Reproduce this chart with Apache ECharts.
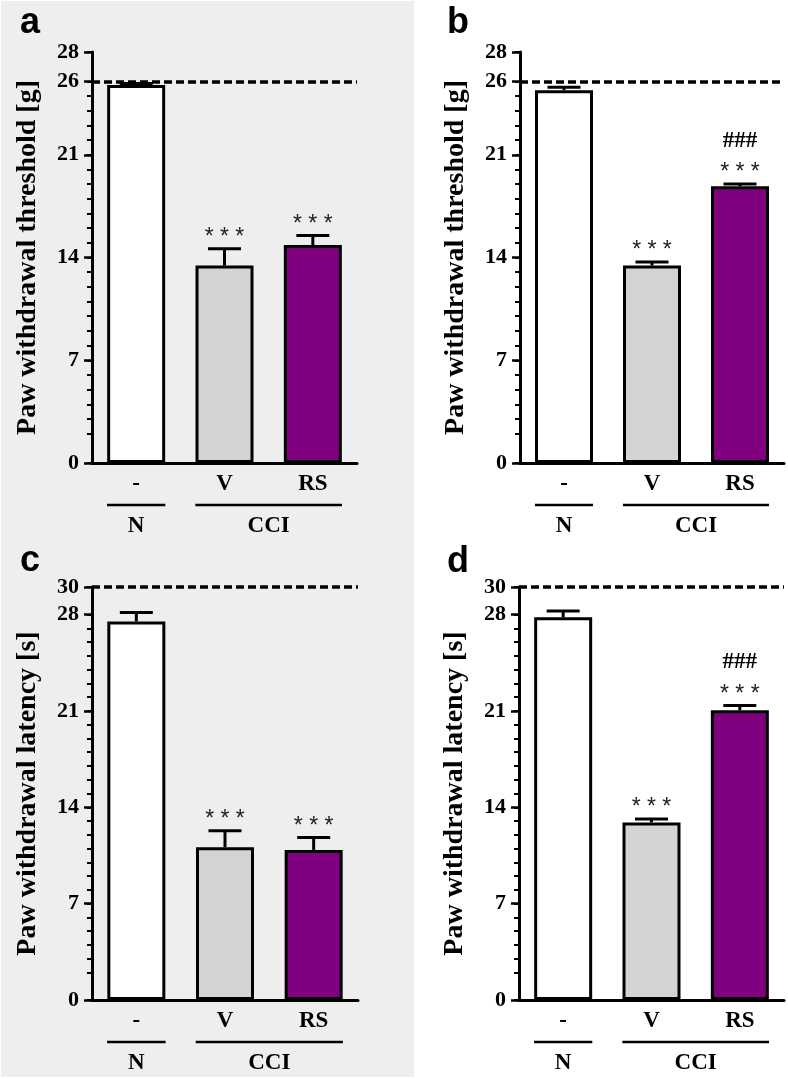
<!DOCTYPE html>
<html>
<head>
<meta charset="utf-8">
<script src="https://cdn.jsdelivr.net/npm/echarts@6/dist/echarts.min.js"></script>
<style>
html,body{margin:0;padding:0;background:#fff;}
#chart{width:788px;height:1079px;}
</style>
</head>
<body>
<div id="chart"></div>
<script>
// ---------- data ----------
const categories = ['-', 'V', 'RS'];
const groupNames = ['N', 'CCI'];
const groupSpans = [[0, 0], [1, 2]];

const panelLabels = ['a', 'b', 'c', 'd'];
const yTitles = ['Paw withdrawal threshold [g]', 'Paw withdrawal threshold [g]',
                 'Paw withdrawal latency [s]', 'Paw withdrawal latency [s]'];

const meansA = [25.75, 13.45, 14.85];
const semA   = [0.1, 1.15, 0.65];
const meansB = [25.4, 13.45, 18.85];
const semB   = [0.2, 0.25, 0.15];
const meansC = [27.5, 11.1, 10.9];
const semC   = [0.65, 1.2, 0.9];
const meansD = [27.8, 12.9, 21.05];
const semD   = [0.45, 0.25, 0.35];

const starsA = ['', '***', '***'];
const starsB = ['', '***', '***'];
const starsC = ['', '***', '***'];
const starsD = ['', '***', '***'];
const hashA = ['', '', ''];
const hashB = ['', '', '###'];
const hashC = ['', '', ''];
const hashD = ['', '', '###'];

const cutoffs = [26, 26, 30, 30];
const yMax = [28, 28, 30, 30];
const ticksThreshold = [0, 7, 14, 21, 26, 28];
const ticksLatency = [0, 7, 14, 21, 28, 30];

// ---------- styles ----------
const barColors = ['#ffffff', '#d3d3d3', '#800080'];
const SERIF = '"Liberation Serif", "Times New Roman", serif';
const SANS = '"Liberation Sans", Arial, sans-serif';

const panels = [
  {means: meansA, sem: semA, stars: starsA, hash: hashA, ticks: ticksThreshold},
  {means: meansB, sem: semB, stars: starsB, hash: hashB, ticks: ticksThreshold},
  {means: meansC, sem: semC, stars: starsC, hash: hashC, ticks: ticksLatency},
  {means: meansD, sem: semD, stars: starsD, hash: hashD, ticks: ticksLatency}
];

const grids = [
  {left: 92, top: 52, width: 265, height: 411},
  {left: 520, top: 52, width: 264, height: 411},
  {left: 92, top: 587, width: 266, height: 413},
  {left: 519, top: 587, width: 265, height: 413}
];

const xAxes = [], yAxes = [], series = [];
panels.forEach((p, i) => {
  xAxes.push({
    type: 'category', gridIndex: i, data: categories, boundaryGap: true,
    axisLine: {lineStyle: {color: '#000', width: 3}},
    axisTick: {alignWithLabel: true, length: 8, lineStyle: {color: '#000', width: 2.5}},
    axisLabel: {color: '#000', fontFamily: SERIF, fontWeight: 'bold', fontSize: 23, margin: 10}
  });
  // main y axis: short ticks every unit, labels only at marked values
  yAxes.push({
    type: 'value', gridIndex: i, min: 0, max: yMax[i], interval: 1,
    name: yTitles[i], nameLocation: 'middle', nameGap: 50,
    nameTextStyle: {color: '#000', fontFamily: SERIF, fontWeight: 'bold', fontSize: 28},
    axisLine: {show: true, lineStyle: {color: '#000', width: 3}},
    axisTick: {show: true, interval: 0, length: 5, lineStyle: {color: '#000', width: 2}},
    axisLabel: {
      interval: 0, hideOverlap: false, showMinLabel: true, showMaxLabel: true,
      color: '#000', fontFamily: SERIF, fontWeight: 'bold', fontSize: 22, margin: 13,
      formatter: v => (p.ticks.indexOf(v) >= 0 ? String(v) : '\u2009')
    },
    splitLine: {show: false}
  });
  // overlay axis: long ticks at the labelled values
  yAxes.push({
    type: 'value', gridIndex: i, min: 0, max: yMax[i], interval: 1, position: 'left', offset: 0,
    axisLine: {show: true, lineStyle: {color: 'rgba(0,0,0,0)', width: 1}},
    axisTick: {show: true, length: 8, customValues: p.ticks, lineStyle: {color: '#000', width: 2.5}},
    axisLabel: {show: true, customValues: p.ticks, showMinLabel: true, showMaxLabel: true, color: 'rgba(0,0,0,0)', fontSize: 10},
    splitLine: {show: false}
  });
  const yIdx = i * 2;
  series.push({
    type: 'bar', xAxisIndex: i, yAxisIndex: yIdx, barWidth: 58,
    data: p.means.map((v, k) => ({value: v, itemStyle: {color: barColors[k]}})),
    itemStyle: {borderColor: '#000', borderWidth: 3},
    silent: true,
    markLine: {
      silent: true, symbol: ['none', 'none'], label: {show: false},
      lineStyle: {type: [8, 4], width: 3.5, color: '#000'},
      data: [{yAxis: cutoffs[i]}], z: 5
    }
  });
  series.push({
    type: 'custom', xAxisIndex: i, yAxisIndex: yIdx, z: 4, silent: true,
    data: p.means.map((v, k) => [k, v, p.sem[k]]),
    renderItem: function (params, api) {
      const k = api.value(0), m = api.value(1), s = api.value(2);
      const base = api.coord([k, m]);
      const top = api.coord([k, m + s]);
      const half = 16.5;
      const children = [
        {type: 'line', shape: {x1: base[0], y1: base[1], x2: top[0], y2: top[1]}, style: {stroke: '#000', lineWidth: 3}},
        {type: 'line', shape: {x1: top[0] - half, y1: top[1], x2: top[0] + half, y2: top[1]}, style: {stroke: '#000', lineWidth: 3}}
      ];
      const st = p.stars[params.dataIndex];
      if (st) {
        children.push({type: 'text', x: top[0], y: top[1] - 11,
          style: {text: st.split('').join(' '), fill: '#222', font: '23px ' + SANS, align: 'center', verticalAlign: 'middle'}});
      }
      const hs = p.hash[params.dataIndex];
      if (hs) {
        children.push({type: 'text', x: top[0], y: top[1] - 43,
          style: {text: hs, fill: '#000', font: 'bold 23px ' + SERIF, align: 'center', verticalAlign: 'middle'}});
      }
      return {type: 'group', children: children};
    }
  });
  // group lines and labels (also keeps the overlay axis in use)
  series.push({
    type: 'custom', xAxisIndex: i, yAxisIndex: yIdx + 1, silent: true,
    data: groupSpans.map((g, k) => [g[0], g[1], k]),
    renderItem: function (params, api) {
      const p0 = api.coord([api.value(0), 0]);
      const p1 = api.coord([api.value(1), 0]);
      const band = api.size([1, 0])[0];
      const x0 = p0[0] - 0.33 * band, x1 = p1[0] + 0.33 * band;
      const y = p0[1];
      return {type: 'group', children: [
        {type: 'line', shape: {x1: x0, y1: y + 42, x2: x1, y2: y + 42}, style: {stroke: '#000', lineWidth: 2.5}},
        {type: 'text', x: (x0 + x1) / 2, y: y + 63,
          style: {text: groupNames[params.dataIndex], fill: '#000', font: 'bold 23px ' + SERIF, align: 'center', verticalAlign: 'middle'}}
      ]};
    }
  });
});

const labelPos = [[20, 23], [447, 23], [20, 561], [447, 562]];
const graphic = [
  {type: 'rect', left: 1, top: 1, z: -100, shape: {x: 0, y: 0, width: 413, height: 1076}, style: {fill: '#eeeeee'}, silent: true}
];
panelLabels.forEach((t, i) => {
  graphic.push({type: 'text', x: labelPos[i][0], y: labelPos[i][1], z: 100,
    style: {text: t, fill: '#000', font: 'bold 36px ' + SANS, align: 'left', verticalAlign: 'middle'}});
});

const chart = echarts.init(document.getElementById('chart'), null, {renderer: 'canvas'});
chart.setOption({
  animation: false,
  backgroundColor: '#ffffff',
  grid: grids,
  xAxis: xAxes,
  yAxis: yAxes,
  series: series,
  graphic: graphic
});
</script>
</body>
</html>
